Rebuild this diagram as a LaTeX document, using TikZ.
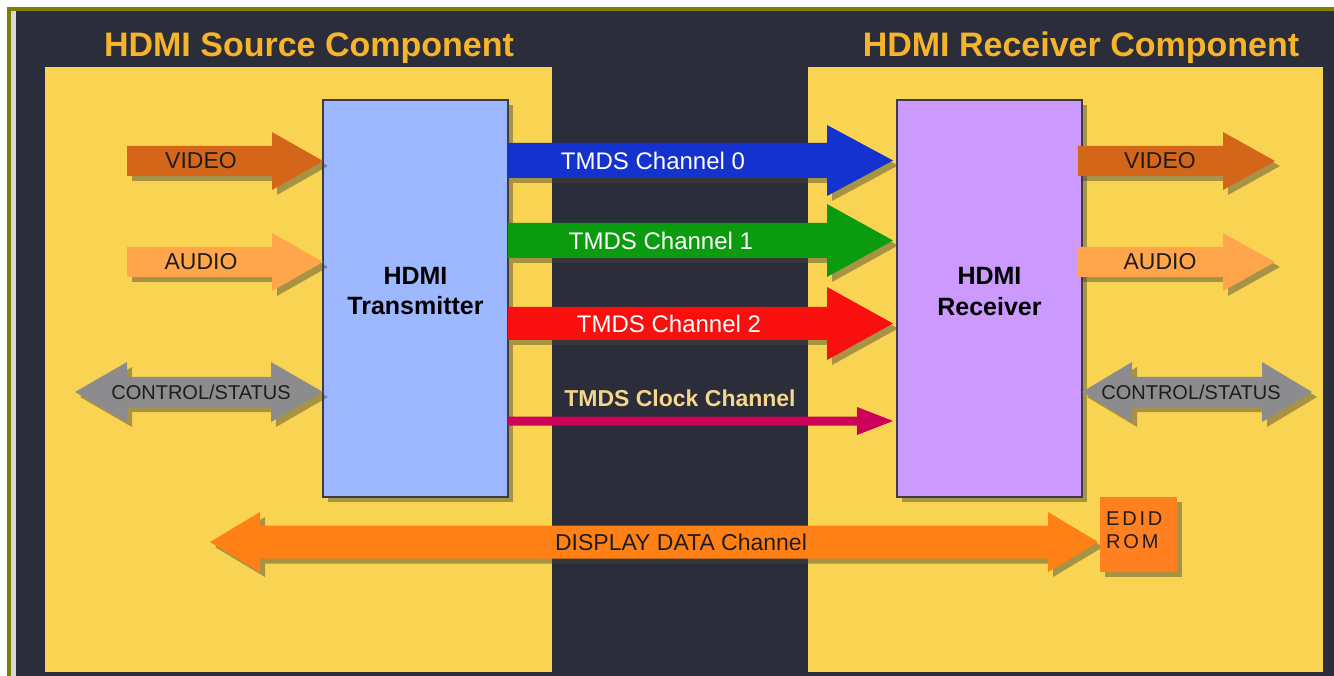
\documentclass[tikz,border=0pt]{standalone}
\usepackage{fontspec}
\setmainfont{Liberation Sans}
\newfontfamily\edidfont[LetterSpace=14]{Liberation Sans}
\definecolor{bgdark}{RGB}{43,46,58}
\definecolor{frameolive}{RGB}{128,128,0}
\definecolor{edgelight}{RGB}{215,215,220}
\definecolor{panelyellow}{RGB}{249,212,82}
\definecolor{titlecol}{RGB}{246,180,42}
\definecolor{txblue}{RGB}{157,184,255}
\definecolor{rxpurple}{RGB}{204,153,255}
\definecolor{videocol}{RGB}{212,102,26}
\definecolor{audiocol}{RGB}{255,166,77}
\definecolor{ctrlcol}{RGB}{140,140,142}
\definecolor{ch0}{RGB}{20,50,205}
\definecolor{ch1}{RGB}{10,155,15}
\definecolor{ch2}{RGB}{250,15,15}
\definecolor{clockcol}{RGB}{205,0,90}
\definecolor{clocktext}{RGB}{245,215,140}
\definecolor{ddccol}{RGB}{255,128,20}
\definecolor{edidcol}{RGB}{255,128,32}
\definecolor{darktext}{RGB}{32,28,28}
\definecolor{shadowcol}{RGB}{70,66,50}
\definecolor{boxedge}{RGB}{60,60,66}

% right-pointing block arrow: #1 x start, #2 x tip, #3 y centre, #4 body half, #5 head half, #6 head length, #7 style
\newcommand{\RArrow}[7]{%
  \fill[#7] ({#1},{#3-#4}) -- ({#2-#6},{#3-#4}) -- ({#2-#6},{#3-#5}) -- ({#2},{#3})
    -- ({#2-#6},{#3+#5}) -- ({#2-#6},{#3+#4}) -- ({#1},{#3+#4}) -- cycle;}
% double block arrow: #1 left tip, #2 right tip, #3 y centre, #4 body half, #5 head half, #6 head length, #7 style
\newcommand{\DArrow}[7]{%
  \fill[#7] ({#1},{#3}) -- ({#1+#6},{#3-#5}) -- ({#1+#6},{#3-#4}) -- ({#2-#6},{#3-#4})
    -- ({#2-#6},{#3-#5}) -- ({#2},{#3}) -- ({#2-#6},{#3+#5}) -- ({#2-#6},{#3+#4})
    -- ({#1+#6},{#3+#4}) -- ({#1+#6},{#3+#5}) -- cycle;}

\tikzset{
  shadowfill/.style={fill=shadowcol, fill opacity=0.45, shift={(5,5)}},
  titletext/.style={text=titlecol, font=\bfseries\fontsize{34}{40}\selectfont, anchor=base},
  boxtext/.style={text=black, font=\bfseries\fontsize{25}{30}\selectfont, anchor=base},
  arrowtext/.style={text=darktext, font=\fontsize{23}{27}\selectfont, inner sep=0pt},
  ctrltext/.style={text=darktext, font=\fontsize{20}{24}\selectfont, inner sep=0pt},
  tmdstext/.style={text=white, font=\fontsize{24}{28}\selectfont, inner sep=0pt},
  clocklabel/.style={text=clocktext, font=\bfseries\fontsize{23}{27}\selectfont, inner sep=0pt},
  unitbox/.style={draw=boxedge, line width=1.2pt, minimum width=185, minimum height=397, inner sep=0pt},
  panel/.style={fill=panelyellow},
}

\begin{document}
\begin{tikzpicture}[x=1pt, y=-1pt]
\useasboundingbox (0,0) rectangle (1334,676);
% frame and background
\fill[white] (0,0) rectangle (1334,676);
\fill[frameolive] (7,7) rectangle (1334,676);
\fill[edgelight] (11,11) rectangle (16,676);
\fill[bgdark] (16,11) rectangle (1334,676);

% panels
\fill[panel] (45,67) rectangle (552,672);
\fill[panel] (808,67) rectangle (1323,672);

% titles
\node[titletext] (srctitle) at (309,57) {HDMI Source Component};
\node[titletext] (rxtitle) at (1081,57) {HDMI Receiver Component};

% unit boxes with shadows
\fill[shadowfill] (323,100) rectangle (508,497);
\fill[shadowfill] (897,100) rectangle (1082,497);
\node[unitbox, fill=txblue] (tx) at (415.5,298.5) {};
\node[unitbox, fill=rxpurple] (rx) at (989.5,298.5) {};
\node[boxtext] (txl1) at (415.5,285) {HDMI};
\node[boxtext] (txl2) at (415.5,315) {Transmitter};
\node[boxtext] (rxl1) at (989.5,285) {HDMI};
\node[boxtext] (rxl2) at (989.5,316) {Receiver};

% source side inputs
\RArrow{127}{323}{161}{15}{29}{51}{shadowfill}
\RArrow{127}{323}{161}{15}{29}{51}{fill=videocol}
\node[arrowtext] (vin) at (201,161) {VIDEO};
\RArrow{127}{323}{262}{15}{29}{51}{shadowfill}
\RArrow{127}{323}{262}{15}{29}{51}{fill=audiocol}
\node[arrowtext] (ain) at (201,262) {AUDIO};
\DArrow{75}{323}{392}{15}{30}{52}{shadowfill}
\DArrow{75}{323}{392}{15}{30}{52}{fill=ctrlcol}
\node[ctrltext] (cin) at (201,392) {CONTROL/STATUS};

% receiver side outputs
\RArrow{1078}{1275}{161}{15}{29}{52}{shadowfill}
\RArrow{1078}{1275}{161}{15}{29}{52}{fill=videocol}
\node[arrowtext] (vout) at (1160,161) {VIDEO};
\RArrow{1078}{1275}{262}{15}{29}{52}{shadowfill}
\RArrow{1078}{1275}{262}{15}{29}{52}{fill=audiocol}
\node[arrowtext] (aout) at (1160,262) {AUDIO};
\DArrow{1082}{1312}{392}{15}{30}{50}{shadowfill}
\DArrow{1082}{1312}{392}{15}{30}{50}{fill=ctrlcol}
\node[ctrltext] (cout) at (1191,392) {CONTROL/STATUS};

% TMDS channels
\RArrow{508}{893}{160.5}{17.5}{35.5}{66}{shadowfill}
\RArrow{508}{893}{160.5}{17.5}{35.5}{66}{fill=ch0}
\node[tmdstext] (t0) at (653,161) {TMDS Channel 0};
\RArrow{508}{893}{240.5}{17.5}{36.5}{66}{shadowfill}
\RArrow{508}{893}{240.5}{17.5}{36.5}{66}{fill=ch1}
\node[tmdstext] (t1) at (661,241) {TMDS Channel 1};
\RArrow{508}{893}{323.5}{16.5}{36.5}{66}{shadowfill}
\RArrow{508}{893}{323.5}{16.5}{36.5}{66}{fill=ch2}
\node[tmdstext] (t2) at (669,324) {TMDS Channel 2};
\RArrow{508}{893}{421}{4.5}{14}{36}{fill=clockcol}
\node[clocklabel] (tclk) at (680,398) {TMDS Clock Channel};

% display data channel and EDID ROM
\DArrow{210}{1098}{542}{16.5}{30}{50}{shadowfill}
\DArrow{210}{1098}{542}{16.5}{30}{50}{fill=ddccol}
\node[arrowtext] (ddc) at (681,542) {DISPLAY DATA Channel};
\fill[shadowfill] (1100,497) rectangle (1177,572);
\node[fill=edidcol, minimum width=77, minimum height=75, inner sep=0pt] (edid) at (1138.5,534.5) {};
\node[text=darktext, font=\edidfont\fontsize{20}{23}\selectfont, align=left, anchor=north west, inner sep=0pt] (edidl) at (1106,512) {EDID\\ROM};
\end{tikzpicture}
\end{document}
